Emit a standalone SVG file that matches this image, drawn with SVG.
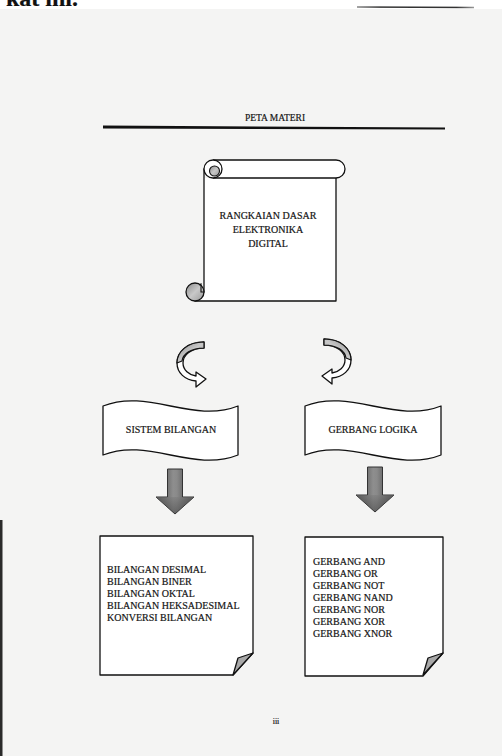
<svg xmlns="http://www.w3.org/2000/svg" width="502" height="756" viewBox="0 0 502 756">
  <style>
    .t { font-family: "Liberation Serif", "Times New Roman", serif; fill: #111; stroke: #222; stroke-width: 0.2; }
    .s10 { font-size: 10px; }
    .ln { fill: none; stroke: #111; stroke-width: 1.3; stroke-linejoin: round; stroke-linecap: round; }
    .wf { fill: #ffffff; stroke: #111; stroke-width: 1.3; stroke-linejoin: round; }
  </style>
  <defs>
    <linearGradient id="metal" x1="0" y1="0" x2="1" y2="0">
      <stop offset="0" stop-color="#3d3d3d"/>
      <stop offset="0.45" stop-color="#8e8e8e"/>
      <stop offset="0.55" stop-color="#8a8a8a"/>
      <stop offset="1" stop-color="#3a3a3a"/>
    </linearGradient>
    <linearGradient id="headG" x1="0" y1="0" x2="0" y2="1">
      <stop offset="0" stop-color="#7a7a7a"/>
      <stop offset="1" stop-color="#3a3a3a"/>
    </linearGradient>
    <linearGradient id="curlG" x1="0" y1="0" x2="1" y2="1">
      <stop offset="0" stop-color="#8a8a8a"/>
      <stop offset="0.5" stop-color="#c8c8c8"/>
      <stop offset="1" stop-color="#9a9a9a"/>
    </linearGradient>
    <linearGradient id="topLine" x1="0" y1="0" x2="1" y2="0">
      <stop offset="0" stop-color="#888"/>
      <stop offset="0.2" stop-color="#333"/>
      <stop offset="0.85" stop-color="#333"/>
      <stop offset="1" stop-color="#999"/>
    </linearGradient>
    <g id="curveArrow">
      <path class="wf" d="M204,342 C187,342 177,352 177,363 C177,373 185,380 196,381 L196,387 L206,379 L196,372 L196,376 C189,375 183,370 183,363 C183,355 191,348 204,348 Z"/>
      <path d="M204,342 C187,342 177,352 177,363 L182,361 C183,354 191,348 204,348 Z" fill="url(#curlG)" stroke="#111" stroke-width="1.2" stroke-linejoin="round"/>
    </g>
    <g id="bigArrow">
      <path d="M-7.5,0 L7.5,0 L7.5,28 L19,28 L0,45 L-19,28 L-7.5,28 Z" fill="url(#metal)" stroke="#333" stroke-width="1"/>
      <path d="M-19,28 L19,28 L0,45 Z" fill="url(#headG)" opacity="0.5"/>
    </g>
    <g id="fold">
      <path d="M0,0 L-15,5 L-20,22 Z" fill="#a8a8a8" stroke="#111" stroke-width="1.3" stroke-linejoin="round"/>
    </g>
  </defs>

  <!-- page -->
  <rect x="0" y="0" width="502" height="756" fill="#ffffff"/>
  <rect x="0" y="9" width="502" height="747" fill="#f4f4f3"/>
  <rect x="0" y="520" width="2.5" height="236" fill="#2a2a2a"/>
  <text class="t" x="6" y="6" font-size="24" font-weight="bold">kat ini.</text>
  <line x1="357" y1="7" x2="474" y2="7.5" stroke="url(#topLine)" stroke-width="1.6"/>

  <!-- header -->
  <g id="header">
    <text class="t" x="275" y="121" font-size="9.5" text-anchor="middle">PETA MATERI</text>
    <path d="M103,125.5 L445,127.5 L445,129.5 L103,128.5 Z" fill="#111"/>
  </g>

  <!-- scroll node -->
  <g id="node-root">
    <path d="M204,178 L336,178 L336,301 L195,301 L195,292 L204,292 Z" fill="#ffffff"/>
    <path class="ln" d="M204,169 L204,292"/>
    <path class="ln" d="M336,178 L336,301 L195,301"/>
    <path class="wf" d="M213,160 L336,160 A9,9 0 0 1 336,178 L213,178"/>
    <circle cx="213" cy="169" r="9" class="wf"/>
    <circle cx="214.5" cy="171" r="5" fill="url(#curlG)" stroke="#111" stroke-width="1.1"/>
    <circle cx="195" cy="292" r="9" fill="url(#curlG)" stroke="#111" stroke-width="1.3"/>
    <path d="M199,285 L201,284 L201,292 L204,292" fill="none" stroke="#111" stroke-width="1.1"/>
    <text class="t s10" x="268" y="219" text-anchor="middle">RANGKAIAN DASAR</text>
    <text class="t s10" x="268" y="233" text-anchor="middle">ELEKTRONIKA</text>
    <text class="t s10" x="268" y="247" text-anchor="middle">DIGITAL</text>
  </g>

  <!-- banner nodes -->
  <g id="node-sistem">
    <path class="wf" d="M103,406 C148,388 193,424 238,406 L238,455 C193,473 148,437 103,455 Z"/>
    <text class="t s10" x="171" y="433" text-anchor="middle">SISTEM BILANGAN</text>
  </g>
  <g id="node-gerbang">
    <path class="wf" d="M305,406 C350,388 396,424 441,406 L441,455 C396,473 350,437 305,455 Z"/>
    <text class="t s10" x="373" y="433" text-anchor="middle">GERBANG LOGIKA</text>
  </g>

  <!-- note nodes -->
  <g id="node-bilangan">
    <path class="wf" d="M100,536 L253,536 L253,653 L233,675 L100,675 Z"/>
    <use href="#fold" transform="translate(253,653)"/>
    <text class="t s10" x="107" y="573">BILANGAN DESIMAL</text>
    <text class="t s10" x="107" y="585">BILANGAN BINER</text>
    <text class="t s10" x="107" y="597">BILANGAN OKTAL</text>
    <text class="t s10" x="107" y="609">BILANGAN HEKSADESIMAL</text>
    <text class="t s10" x="107" y="621">KONVERSI BILANGAN</text>
  </g>
  <g id="node-logika">
    <path class="wf" d="M305,537 L443,537 L443,653 L423,676 L305,676 Z"/>
    <use href="#fold" transform="translate(443,653)"/>
    <text class="t s10" x="313" y="565">GERBANG AND</text>
    <text class="t s10" x="313" y="577">GERBANG OR</text>
    <text class="t s10" x="313" y="589">GERBANG NOT</text>
    <text class="t s10" x="313" y="601">GERBANG NAND</text>
    <text class="t s10" x="313" y="613">GERBANG NOR</text>
    <text class="t s10" x="313" y="625">GERBANG XOR</text>
    <text class="t s10" x="313" y="637">GERBANG XNOR</text>
  </g>

  <!-- connectors -->
  <g id="connectors">
    <use href="#curveArrow"/>
    <use href="#curveArrow" transform="translate(528,-3) scale(-1,1)"/>
    <use href="#bigArrow" transform="translate(175,469)"/>
    <use href="#bigArrow" transform="translate(375,467)"/>
  </g>

  <text class="t" x="276" y="724" font-size="8" text-anchor="middle">iii</text>
</svg>
